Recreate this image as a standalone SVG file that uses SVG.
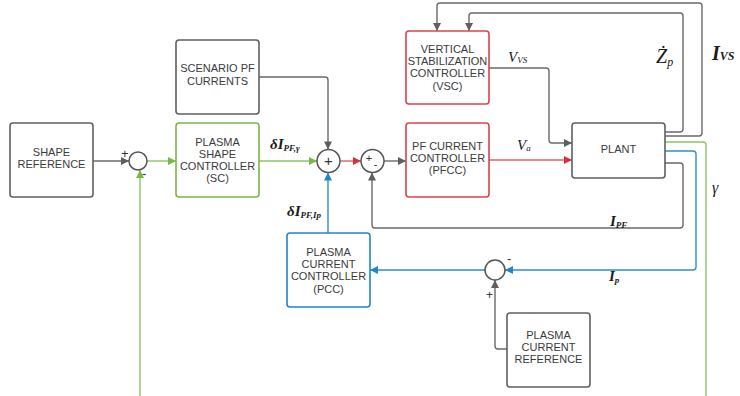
<svg xmlns="http://www.w3.org/2000/svg" width="740" height="396" viewBox="0 0 740 396">
<style>
.box{fill:#fff;stroke-width:1.6}
.g{stroke:#5f5f5f}.gr{stroke:#7ab648}.rd{stroke:#d9434f}.bl{stroke:#1f86c8}
.t{font-family:"Liberation Sans",Arial,sans-serif;font-size:11px;fill:#3a3a3a;text-anchor:middle}
.m{font-family:"Liberation Serif","Times New Roman",serif;font-style:italic;fill:#1a1a1a}
.sum{fill:#fff;stroke:#555;stroke-width:1.5}
.ln{fill:none;stroke-width:1.4;stroke-linejoin:round}
.lg{stroke:#6a6a6a}.lgr{stroke:#8cc565}.lrd{stroke:#e0606a}.lbl{stroke:#2a8ed0}
.sg{font-family:"Liberation Sans",Arial,sans-serif;fill:#333}
</style>
<defs>
<marker id="ag" viewBox="0 0 10 10" refX="10" refY="5" markerWidth="9" markerHeight="8" markerUnits="userSpaceOnUse" orient="auto"><path d="M0,0L10,5L0,10z" fill="#5f5f5f"/></marker>
<marker id="agr" viewBox="0 0 10 10" refX="10" refY="5" markerWidth="9" markerHeight="8" markerUnits="userSpaceOnUse" orient="auto"><path d="M0,0L10,5L0,10z" fill="#7ab648"/></marker>
<marker id="ard" viewBox="0 0 10 10" refX="10" refY="5" markerWidth="9" markerHeight="8" markerUnits="userSpaceOnUse" orient="auto"><path d="M0,0L10,5L0,10z" fill="#d9303f"/></marker>
<marker id="abl" viewBox="0 0 10 10" refX="10" refY="5" markerWidth="9" markerHeight="8" markerUnits="userSpaceOnUse" orient="auto"><path d="M0,0L10,5L0,10z" fill="#1f86c8"/></marker>
</defs>

<g id="connectors">
<path class="ln lg" d="M93,161H129" marker-end="url(#ag)"/>
<path class="ln lgr" d="M147,161H176" marker-end="url(#agr)"/>
<path class="ln lgr" d="M259,161H317" marker-end="url(#agr)"/>
<path class="ln lg" d="M259,77H325Q328,77 328,80V149.5" marker-end="url(#ag)"/>
<path class="ln lbl" d="M328,233V172.5" marker-end="url(#abl)"/>
<path class="ln lrd" d="M340,161H361" marker-end="url(#ard)"/>
<path class="ln lg" d="M384,161H406" marker-end="url(#ag)"/>
<path class="ln lg" d="M489,68H546Q549,68 549,71V140Q549,143 552,143H572" marker-end="url(#ag)"/>
<path class="ln lrd" d="M489,160H572" marker-end="url(#ard)"/>
<path class="ln lg" d="M665,132H680Q683,132 683,129V16Q683,13 680,13H472Q469,13 469,16V31" marker-end="url(#ag)"/>
<path class="ln lg" d="M665,136H699Q702,136 702,133V6Q702,3 699,3H440Q437,3 437,6V31" marker-end="url(#ag)"/>
<path class="ln lgr" d="M665,142H703Q706,142 706,145V396"/>
<path class="ln lgr" d="M140,396V170" marker-end="url(#agr)"/>
<path class="ln lbl" d="M665,151H693Q696,151 696,154V267Q696,270 693,270H505" marker-end="url(#abl)"/>
<path class="ln lbl" d="M485,270H370" marker-end="url(#abl)"/>
<path class="ln lg" d="M507,349H498Q495,349 495,346V280" marker-end="url(#ag)"/>
<path class="ln lg" d="M665,163H680Q683,163 683,166V225Q683,228 680,228H375Q372,228 372,225V172.5" marker-end="url(#ag)"/>
</g>

<g id="sum1"><circle class="sum" cx="138" cy="161" r="9"/><text class="sg" x="121" y="158" style="font-size:13px">+</text><text class="sg" x="142" y="178" style="font-size:13px">-</text></g>
<g id="sum2"><circle class="sum" cx="328.5" cy="161" r="11.5"/><text class="sg" x="328.5" y="166" text-anchor="middle" style="font-size:15px">+</text></g>
<g id="sum3"><circle class="sum" cx="372.5" cy="161" r="11.5"/><text class="sg" x="369" y="161.5" text-anchor="middle" style="font-size:11px">+</text><text class="sg" x="375.5" y="168" text-anchor="middle" style="font-size:11px">-</text></g>
<g id="sum4"><circle class="sum" cx="495" cy="270" r="10"/><text class="sg" x="507" y="263" style="font-size:13px">-</text><text class="sg" x="486" y="299" style="font-size:12px">+</text></g>

<g id="shape-reference"><rect class="box g" x="10" y="123" width="83" height="74" rx="3"/><text class="t" x="51.5" y="156">SHAPE</text><text class="t" x="51.5" y="168">REFERENCE</text></g>
<g id="plasma-shape-controller"><rect class="box gr" x="176" y="123" width="83" height="74" rx="3"/><text class="t" x="217.5" y="146">PLASMA</text><text class="t" x="217.5" y="158">SHAPE</text><text class="t" x="217.5" y="170">CONTROLLER</text><text class="t" x="217.5" y="182">(SC)</text></g>
<g id="scenario-pf-currents"><rect class="box g" x="176" y="40" width="83" height="74" rx="3"/><text class="t" x="217.5" y="72">SCENARIO PF</text><text class="t" x="217.5" y="85">CURRENTS</text></g>
<g id="vsc"><rect class="box rd" x="406" y="31" width="83" height="73" rx="3"/><text class="t" x="447.5" y="53">VERTICAL</text><text class="t" x="447.5" y="65">STABILIZATION</text><text class="t" x="447.5" y="77">CONTROLLER</text><text class="t" x="447.5" y="90">(VSC)</text></g>
<g id="pfcc"><rect class="box rd" x="406" y="123" width="83" height="74" rx="3"/><text class="t" x="447.5" y="150">PF CURRENT</text><text class="t" x="447.5" y="162">CONTROLLER</text><text class="t" x="447.5" y="174">(PFCC)</text></g>
<g id="plant"><rect class="box g" x="572" y="123" width="93" height="55" rx="3"/><text class="t" x="618.5" y="153">PLANT</text></g>
<g id="pcc"><rect class="box bl" x="287" y="233" width="83" height="74" rx="3"/><text class="t" x="328.5" y="256">PLASMA</text><text class="t" x="328.5" y="268">CURRENT</text><text class="t" x="328.5" y="280">CONTROLLER</text><text class="t" x="328.5" y="293">(PCC)</text></g>
<g id="plasma-current-reference"><rect class="box g" x="507" y="313" width="83" height="74" rx="3"/><text class="t" x="548.5" y="339">PLASMA</text><text class="t" x="548.5" y="351">CURRENT</text><text class="t" x="548.5" y="363">REFERENCE</text></g>

<g id="labels">
<text class="m" x="270" y="149" font-size="15" font-weight="bold">δI<tspan font-size="9" dy="2">PF,γ</tspan></text>
<text class="m" x="287" y="216" font-size="15" font-weight="bold">δI<tspan font-size="9" dy="2">PF,Ip</tspan></text>
<text class="m" x="508" y="62" font-size="15">V<tspan font-size="9" dy="1">VS</tspan></text>
<text class="m" x="517" y="150" font-size="15">V<tspan font-size="9" dy="1">a</tspan></text>
<text class="m" x="656" y="63" font-size="20">Ż<tspan font-size="12" dy="3">p</tspan></text>
<text class="m" x="712" y="60" font-size="20" font-weight="bold">I<tspan font-size="12">VS</tspan></text>
<text class="m" x="610" y="226" font-size="15" font-weight="bold">I<tspan font-size="9" dy="2">PF</tspan></text>
<text class="m" x="609" y="281" font-size="15" font-weight="bold">I<tspan font-size="9" dy="2">p</tspan></text>
<text class="m" x="712" y="193" font-size="16">γ</text>
</g>
</svg>
